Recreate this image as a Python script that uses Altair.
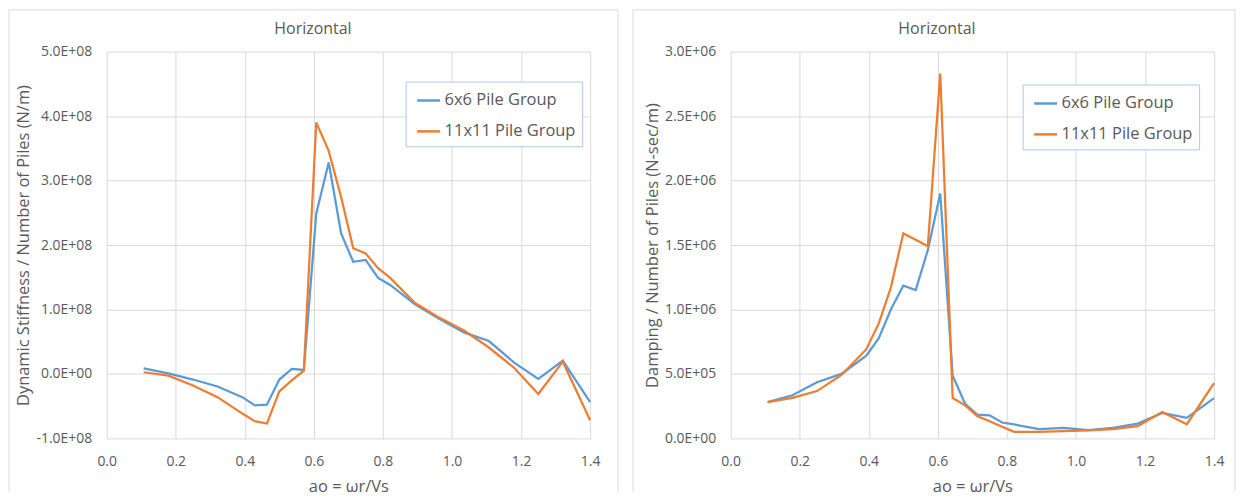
import altair as alt
import pandas as pd

# ---- data ----
ao = [0.107, 0.179, 0.250, 0.321, 0.393, 0.429, 0.464, 0.500, 0.536, 0.571,
      0.607, 0.643, 0.679, 0.714, 0.750, 0.786, 0.821, 0.893, 0.964, 1.036,
      1.107, 1.179, 1.250, 1.321, 1.400]

stiff_6x6 = [8.7e6, 1.0e6, -8.7e6, -1.95e7, -3.6e7, -4.87e7, -4.77e7, -8.7e6, 7.7e6, 6.2e6,
             2.49e8, 3.28e8, 2.18e8, 1.74e8, 1.77e8, 1.49e8, 1.38e8, 1.08e8, 8.5e7, 6.4e7,
             5.1e7, 1.8e7, -7.7e6, 2.05e7, -4.36e7]
stiff_11x11 = [2.6e6, -2.6e6, -1.8e7, -3.6e7, -6.15e7, -7.33e7, -7.7e7, -2.7e7, -1.0e7, 5.0e6,
               3.9e8, 3.46e8, 2.74e8, 1.95e8, 1.87e8, 1.64e8, 1.49e8, 1.10e8, 8.7e7, 6.7e7,
               4.1e7, 1.0e7, -3.1e7, 1.9e7, -7.2e7]

damp_6x6 = [2.82e5, 3.35e5, 4.36e5, 5.0e5, 6.41e5, 7.77e5, 1.0e6, 1.185e6, 1.15e6, 1.46e6,
            1.90e6, 4.87e5, 2.69e5, 1.85e5, 1.79e5, 1.23e5, 1.08e5, 7.2e4, 8.2e4, 6.4e4,
            8.2e4, 1.15e5, 1.97e5, 1.59e5, 3.13e5]
damp_11x11 = [2.82e5, 3.15e5, 3.67e5, 4.92e5, 6.92e5, 8.92e5, 1.17e6, 1.59e6, 1.54e6, 1.49e6,
              2.83e6, 3.13e5, 2.56e5, 1.74e5, 1.33e5, 9.0e4, 5.1e4, 5.1e4, 5.6e4, 6.2e4,
              7.2e4, 9.5e4, 2.05e5, 1.10e5, 4.28e5]

series_names = ["6x6 Pile Group", "11x11 Pile Group"]
series_colors = ["#5B9BD5", "#ED7D31"]

x_ticks = [0.0, 0.2, 0.4, 0.6, 0.8, 1.0, 1.2, 1.4]
stiff_ticks = [-1e8, 0, 1e8, 2e8, 3e8, 4e8, 5e8]
damp_ticks = [0, 5e5, 1e6, 1.5e6, 2e6, 2.5e6, 3e6]

chart_title = "Horizontal"
x_title = "ao = ωr/Vs"
stiff_title = "Dynamic Stiffness / Number of Piles (N/m)"
damp_title = "Damping / Number of Piles (N-sec/m)"


def to_long(a, b):
    rows = []
    for x, v in zip(ao, a):
        rows.append({"ao": x, "value": v, "series": series_names[0]})
    for x, v in zip(ao, b):
        rows.append({"ao": x, "value": v, "series": series_names[1]})
    return pd.DataFrame(rows)


EXP = "floor(log(abs(datum.value))/LN10 + 1e-9)"
sci_expr = (
    "datum.value == 0 ? '0.0E+00' : "
    "(datum.value < 0 ? '-' : '') + format(abs(datum.value)/pow(10, " + EXP + "), '.1f')"
    " + 'E+' + (" + EXP + " < 10 ? '0' : '') + " + EXP
)

GRAY = "#595959"
BORDER = "#D9D9D9"
W, H = 485, 388
TOP, BOTTOM, LEFT = -42, 441, -98


def panel(df, ydom, yticks, ytitle, right_x, leg_x, leg_y):
    one = pd.DataFrame({"b": [0]})
    top_rule = alt.Chart(one).mark_rule(color=BORDER, strokeWidth=1).encode(
        x=alt.value(LEFT), x2=alt.value(right_x), y=alt.value(TOP))
    left_rule = alt.Chart(one).mark_rule(color=BORDER, strokeWidth=1).encode(
        x=alt.value(LEFT), y=alt.value(TOP), y2=alt.value(BOTTOM))
    right_rule = alt.Chart(one).mark_rule(color=BORDER, strokeWidth=1).encode(
        x=alt.value(right_x), y=alt.value(TOP), y2=alt.value(BOTTOM))
    lines = alt.Chart(df).mark_line(strokeWidth=2.25).encode(
        x=alt.X("ao:Q",
                scale=alt.Scale(domain=[0, 1.4], nice=False, zero=False),
                axis=alt.Axis(values=x_ticks, format=".1f", title=x_title,
                              labelFlush=False, labelPadding=16, titlePadding=10)),
        y=alt.Y("value:Q",
                scale=alt.Scale(domain=ydom, nice=False, zero=False),
                axis=alt.Axis(values=yticks, labelExpr=sci_expr, title=ytitle,
                              labelFlush=False, labelPadding=15, titlePadding=4)),
        color=alt.Color("series:N",
                        scale=alt.Scale(domain=series_names, range=series_colors),
                        legend=alt.Legend(
                            orient="none", legendX=leg_x, legendY=leg_y, title=None,
                            symbolType="stroke", symbolSize=529, symbolStrokeWidth=2.5,
                            symbolOffset=4,
                            labelFontSize=16.5, labelColor=GRAY, labelOffset=3,
                            rowPadding=9, padding=6,
                            strokeColor="#A9C9EA", fillColor="white",
                        )),
    )
    title = alt.Chart(pd.DataFrame({"t": [chart_title]})).mark_text(
        fontSize=16, color=GRAY, align="center", baseline="middle"
    ).encode(text="t:N", x=alt.value(207), y=alt.value(-23))
    return alt.layer(top_rule, left_rule, right_rule, lines, title).properties(width=W, height=H)


left = panel(to_long(stiff_6x6, stiff_11x11), [-1e8, 5e8], stiff_ticks, stiff_title, 513, 300, 30)
right = panel(to_long(damp_6x6, damp_11x11), [0, 3e6], damp_ticks, damp_title, 506, 293, 33)

chart = alt.hconcat(left, right, spacing=13).resolve_scale(
    color="independent", x="independent", y="independent"
).resolve_legend(color="independent").configure(
    font="Open Sans", padding=0, background="white"
).configure_view(
    stroke="transparent"
).configure_axis(
    grid=True, gridColor=BORDER, gridWidth=1, domain=False, ticks=False,
    labelColor=GRAY, labelFontSize=14, titleColor=GRAY, titleFontSize=16.5,
    titleFontWeight="normal", labelFont="Open Sans", titleFont="Open Sans"
)

chart.save("out.html", embed_options={"renderer": "svg", "actions": False})
